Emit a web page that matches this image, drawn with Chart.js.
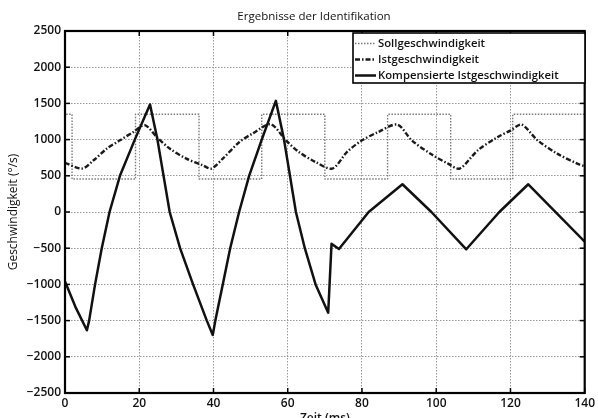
<!DOCTYPE html>
<html>
<head>
<meta charset="utf-8">
<script src="https://cdn.jsdelivr.net/npm/chart.js@4.4.1/dist/chart.umd.min.js"></script>
<style>
  html, body { margin: 0; padding: 0; background: #fff; overflow: hidden; }
</style>
</head>
<body>
<canvas id="chart" width="598" height="418"></canvas>
<script>
// Ergebnisse der Identifikation
const TITLE = "Ergebnisse der Identifikation";
const X_TICKS = [0, 20, 40, 60, 80, 100, 120, 140];
const Y_TICKS = [-2500, -2000, -1500, -1000, -500, 0, 500, 1000, 1500, 2000, 2500];

// Sollgeschwindigkeit (Rechteck, Sprungzeitpunkte)
const sollT = [0, 1.9, 19.0, 36.1, 53.0, 70.0, 86.9, 103.9, 120.6, 137.6, 140];
const sollV = [455, 1350, 455, 1350, 455, 1350, 455, 1350, 455, 1350, 1350];

// Istgeschwindigkeit
const istT = [0, 4.6, 7.7, 11.3, 14.8, 18.4, 21.5, 24.7, 28.2, 32.7, 37.1, 39.4,
  42.5, 47.0, 50.5, 55.4, 59.5, 63.0, 67.5, 72.0, 76.0, 80.0, 84.4, 89.5,
  93.4, 98.7, 103.2, 106.3, 111.2, 116.6, 120.1, 123.0, 127.3, 132.6, 138.0, 140];
const istV = [680, 600, 714, 876, 990, 1105, 1200, 1036, 876, 737, 645, 600,
  737, 967, 1083, 1210, 990, 829, 690, 600, 830, 990, 1105, 1207,
  990, 797, 668, 600, 852, 1036, 1128, 1207, 990, 806, 668, 630];

// Kompensierte Istgeschwindigkeit
const kompT = [0, 2.8, 5.9, 6.5, 8.1, 9.9, 12.0, 14.8, 18.8, 22.9, 24.9, 28.2, 31.0,
  34.5, 38.2, 39.8, 40.5, 42.5, 44.5, 46.9, 49.6, 53.0, 56.8, 59.0, 60.6, 62.2,
  64.6, 67.5, 70.9, 71.8, 73.8, 81.8, 90.9, 98.7, 108.1, 117.0, 124.8, 140];
const kompV = [-960, -1310, -1634, -1500, -1000, -500, 0, 500, 1000, 1485, 1000, 0, -500,
  -1000, -1500, -1700, -1500, -1000, -500, 0, 500, 1000, 1535, 1000, 500, 0,
  -500, -1000, -1390, -440, -510, 0, 383, 0, -515, 0, 383, -410];

const FONT = "'Open Sans', 'DejaVu Sans', sans-serif";
const toXY = (t, v) => t.map((x, i) => ({ x, y: v[i] }));
const minus = (v) => String(v).replace("-", "\u2212");

// MATLAB-artiger Rahmen: Titel, Achsenbox, Ticks nach innen, Legende im Plot
const matlabFrame = {
  id: "matlabFrame",
  afterDraw(chart) {
    const { ctx, chartArea: a, scales: { x, y } } = chart;
    const line = (x1, y1, x2, y2) => { ctx.beginPath(); ctx.moveTo(x1, y1); ctx.lineTo(x2, y2); ctx.stroke(); };
    ctx.save();

    ctx.font = "11.5px " + FONT;
    ctx.fillStyle = "#111";
    ctx.textAlign = "center";
    ctx.textBaseline = "middle";
    ctx.fillText(TITLE, 314, 17);

    ctx.strokeStyle = "#000";
    ctx.lineWidth = 1.5;
    X_TICKS.forEach((v) => {
      const p = x.getPixelForValue(v);
      line(p, a.bottom, p, a.bottom - 5);
      line(p, a.top, p, a.top + 5);
    });
    Y_TICKS.forEach((v) => {
      const p = y.getPixelForValue(v);
      line(a.left, p, a.left + 5, p);
      line(a.right, p, a.right - 5, p);
    });
    ctx.lineWidth = 2.2;
    ctx.strokeRect(a.left, a.top, a.right - a.left, a.bottom - a.top);

    // Legende
    const lx = 353, ly = 33, lw = 232, lh = 50;
    ctx.fillStyle = "#fff";
    ctx.fillRect(lx, ly, lw, lh);
    ctx.lineWidth = 1.6;
    ctx.strokeRect(lx, ly, lw, lh);
    ctx.font = "600 11.3px " + FONT;
    ctx.textAlign = "left";
    chart.data.datasets.forEach((ds, i) => {
      const ry = ly + 10.5 + i * 16;
      ctx.save();
      ctx.strokeStyle = ds.borderColor;
      ctx.lineWidth = ds.borderWidth;
      ctx.setLineDash(ds.borderDash || []);
      line(lx + 2, ry, lx + 23, ry);
      ctx.restore();
      ctx.fillStyle = "#111";
      ctx.fillText(ds.label, lx + 25, ry + 0.5);
    });
    ctx.restore();
  },
};

new Chart("chart", {
  type: "line",
  data: {
    datasets: [
      { label: "Sollgeschwindigkeit", data: toXY(sollT, sollV), stepped: "after",
        borderColor: "#7a7a7a", borderWidth: 1.4, borderDash: [1.5, 1.5], order: 2 },
      { label: "Istgeschwindigkeit", data: toXY(istT, istV), tension: 0.3,
        borderColor: "#1a1a1a", borderWidth: 2.4, borderDash: [5, 2, 1.5, 2], order: 1 },
      { label: "Kompensierte Istgeschwindigkeit", data: toXY(kompT, kompV), tension: 0,
        borderColor: "#111", borderWidth: 2.5, order: 0 },
    ],
  },
  options: {
    responsive: false,
    animation: false,
    parsing: false,
    elements: { point: { radius: 0 }, line: { borderCapStyle: "butt", borderJoinStyle: "round" } },
    layout: { padding: { top: 31, right: 11, bottom: 0, left: 0 } },
    plugins: { legend: { display: false }, title: { display: false }, tooltip: { enabled: false } },
    scales: {
      x: {
        type: "linear", min: 0, max: 140,
        afterFit: (s) => { s.height = 25; },
        afterBuildTicks: (s) => { s.ticks = X_TICKS.map((value) => ({ value })); },
        ticks: { padding: 3, color: "#111", font: { family: FONT, size: 12, weight: "600" }, maxRotation: 0 },
        grid: { color: "#9a9a9a", lineWidth: 1, drawTicks: false },
        border: { display: false, dash: [1.5, 1.5] },
        title: { display: true, text: "Zeit (ms)", color: "#111",
          font: { family: FONT, size: 12, weight: "600" }, padding: { top: 0, bottom: -8 } },
      },
      y: {
        type: "linear", min: -2500, max: 2500,
        afterFit: (s) => { s.width = 65; },
        afterBuildTicks: (s) => { s.ticks = Y_TICKS.map((value) => ({ value })); },
        ticks: { padding: 4, color: "#111", font: { family: FONT, size: 12, weight: "600" },
          callback: (v) => minus(v) },
        grid: { color: "#9a9a9a", lineWidth: 1, drawTicks: false },
        border: { display: false, dash: [1.5, 1.5] },
        title: { display: true, text: "Geschwindigkeit (°/s)", color: "#111",
          font: { family: FONT, size: 12 }, padding: { top: 6, bottom: 0 } },
      },
    },
  },
  plugins: [matlabFrame],
});
</script>
</body>
</html>
